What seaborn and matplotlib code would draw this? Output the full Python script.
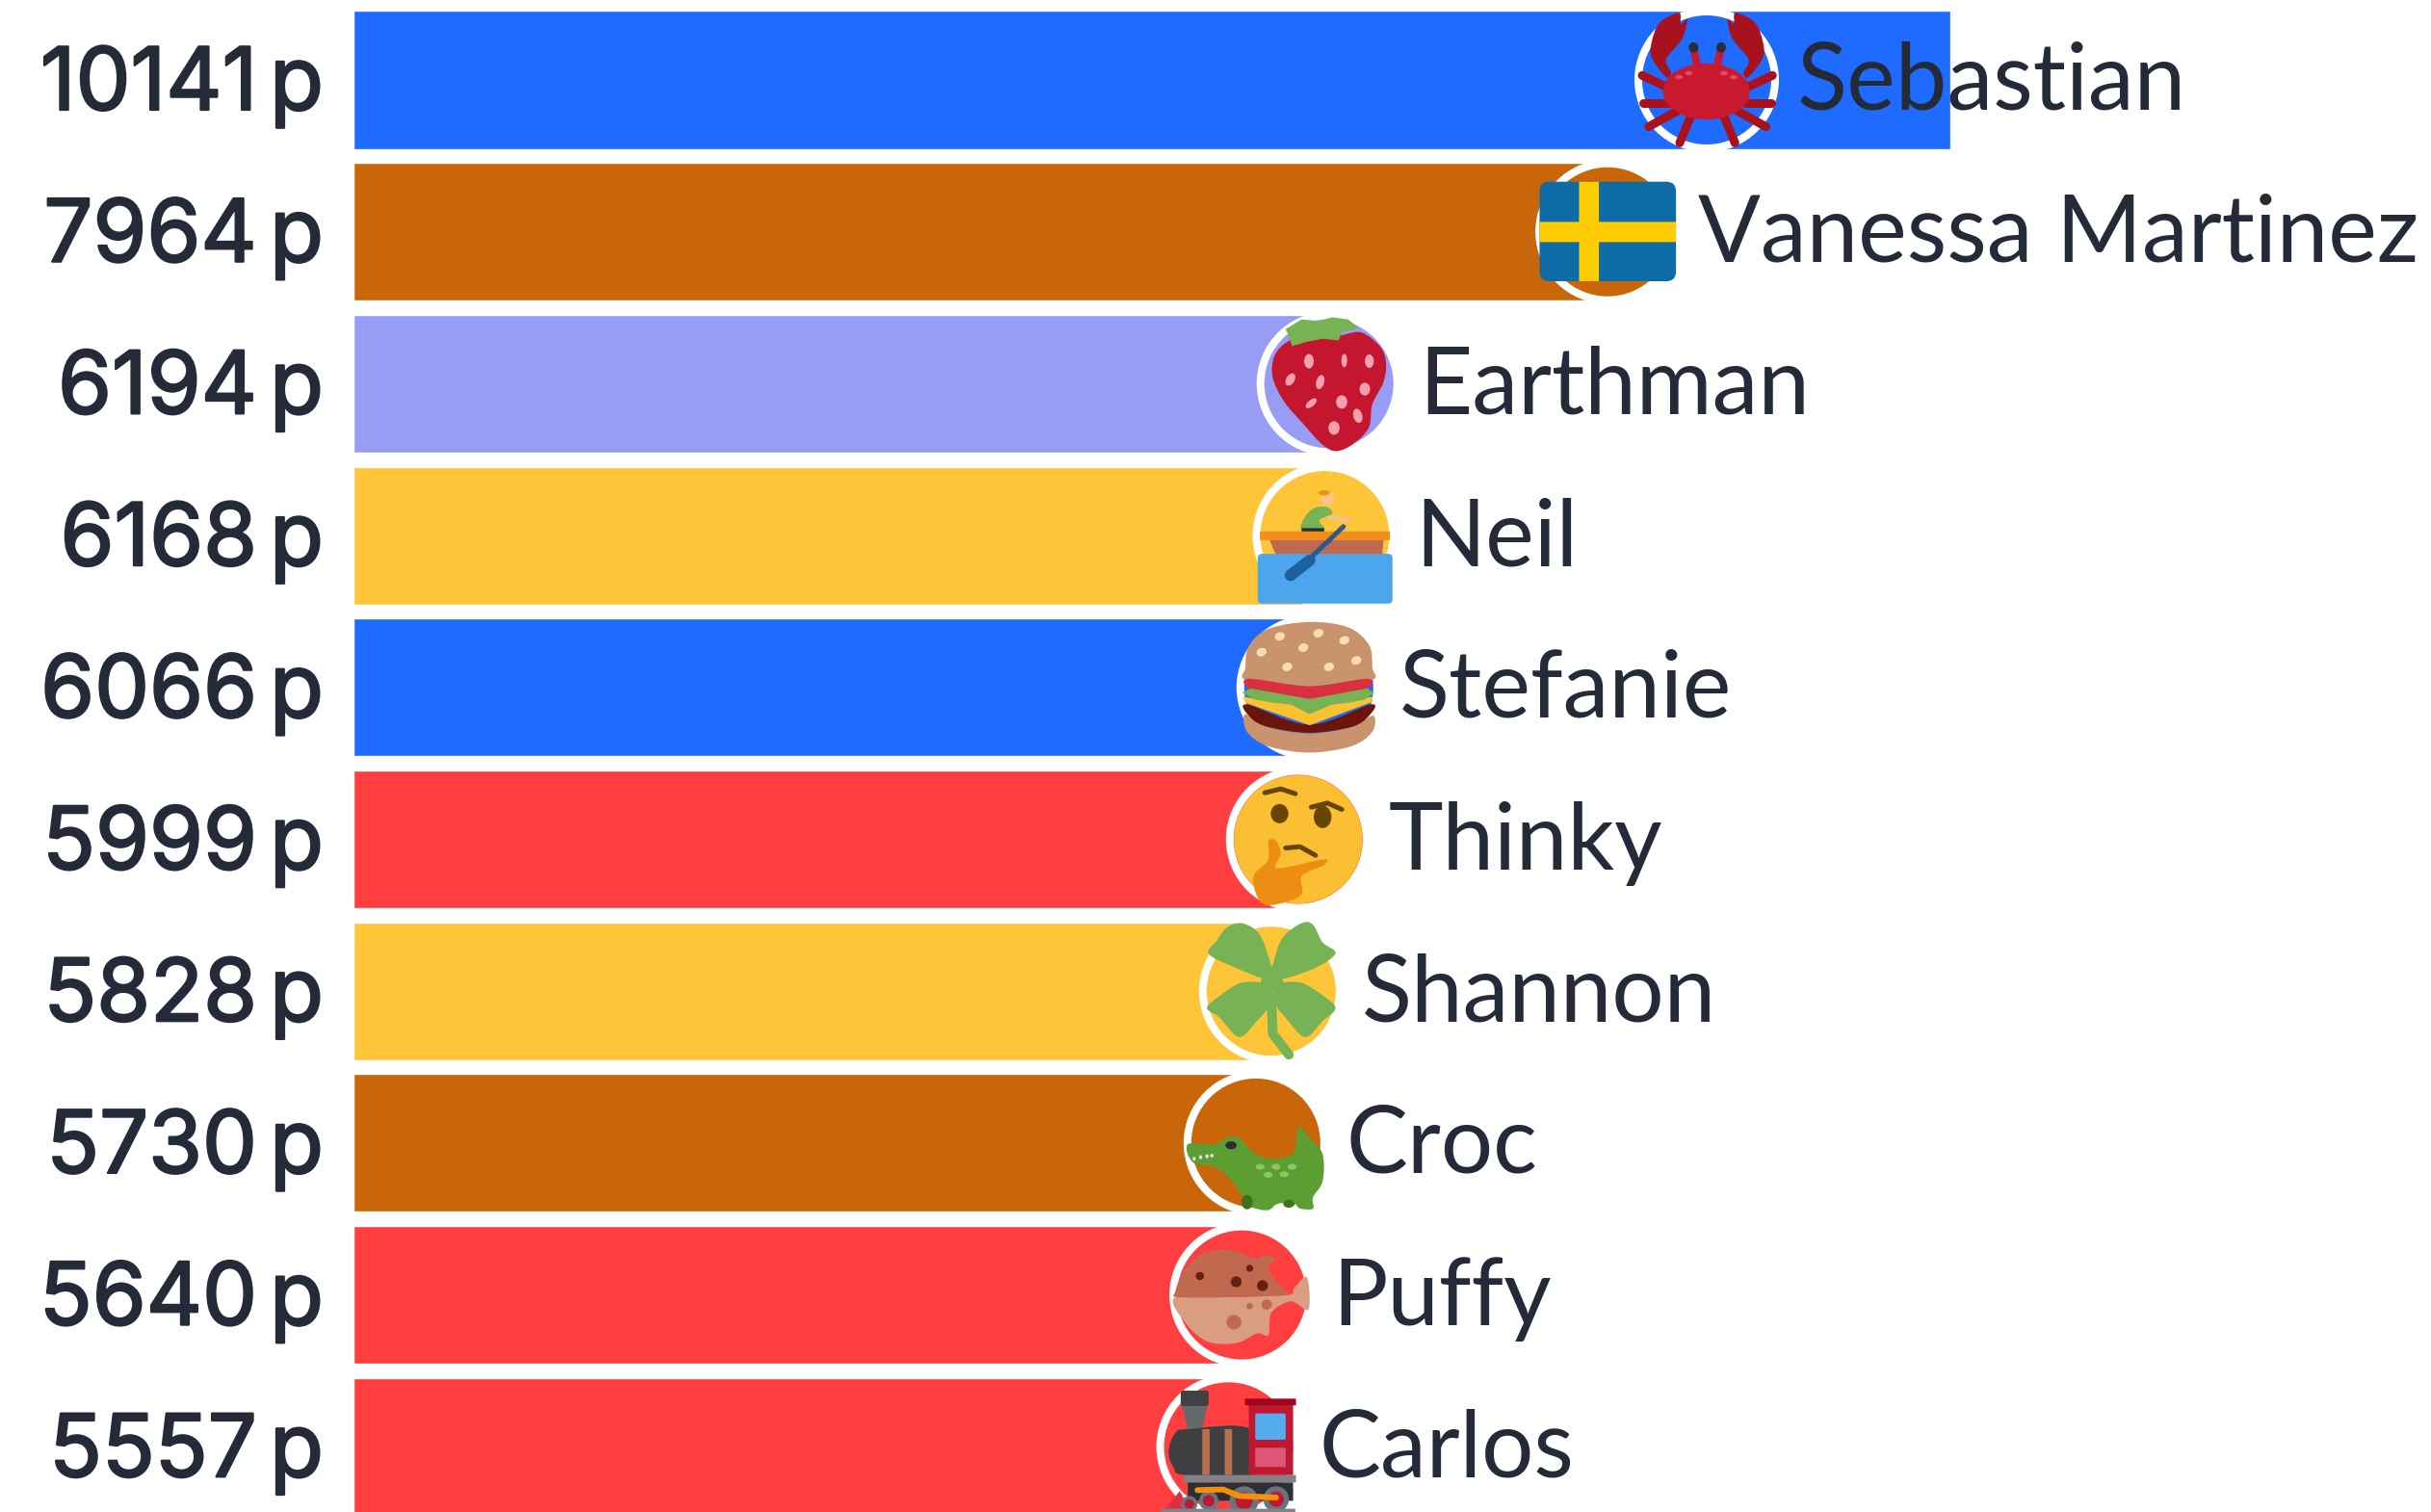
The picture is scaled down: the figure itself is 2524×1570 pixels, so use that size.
import numpy as np
import matplotlib
matplotlib.use("Agg")
import matplotlib.pyplot as plt
import matplotlib.patheffects as pe
import seaborn as sns
from matplotlib.patches import Circle, Ellipse, FancyBboxPatch, PathPatch, Polygon
from matplotlib.path import Path
from matplotlib.transforms import Affine2D

names = ["Sebastian", "Vanessa Martinez", "Earthman", "Neil", "Stefanie",
         "Thinky", "Shannon", "Croc", "Puffy", "Carlos"]
points = [10141, 7964, 6194, 6168, 6066, 5999, 5828, 5730, 5640, 5557]
# the top avatar lags behind the end of its bar in the picture
avatar_at = [8593, 7964, 6194, 6168, 6066, 5999, 5828, 5730, 5640, 5557]
bar_colors = ["#1f6bff", "#c9660a", "#979df5", "#ffc538", "#1f6bff",
              "#ff3f3f", "#ffc538", "#c9660a", "#ff3f3f", "#ff3f3f"]

W, H = 2524, 1570
PX_PER_POINT = 0.1635
BAR_LEFT = 367
ROW_0 = 83
ROW_STEP = 157.7
INK = "#252a38"

sns.set_theme(style="white")
plt.rcParams["font.family"] = ["Inter", "DejaVu Sans"]

fig = plt.figure(figsize=(W / 100, H / 100), dpi=100, facecolor="white")
ax = fig.add_axes([0, 0, 1, 1])
sns.barplot(x=points, y=names, hue=names, palette=bar_colors, saturation=1,
            width=0.907, legend=False, orient="h", ax=ax)
ax.set_xlim(-BAR_LEFT / PX_PER_POINT, (W - BAR_LEFT) / PX_PER_POINT)
ax.set_ylim((H - ROW_0) / ROW_STEP, -ROW_0 / ROW_STEP)
ax.axis("off")


# drawing helpers, icon coordinates are 3x pixels with y going down
def smooth_path(pts):
    p = np.array(pts, dtype=float)
    n = len(p)
    verts = [p[0]]
    codes = [Path.MOVETO]
    for i in range(n):
        c1 = p[i] + (p[(i + 1) % n] - p[i - 1]) / 6
        c2 = p[(i + 1) % n] - (p[(i + 2) % n] - p[i]) / 6
        verts += [c1, c2, p[(i + 1) % n]]
        codes += [Path.CURVE4] * 3
    return Path(verts, codes)


def blob(t, pts, color):
    ax.add_patch(PathPatch(smooth_path(pts), fc=color, ec="none", transform=t, zorder=6))


def poly(t, pts, color):
    ax.add_patch(Polygon(pts, closed=True, fc=color, ec="none", transform=t, zorder=6))


def dot(t, x, y, w, h, color, angle=0):
    ax.add_patch(Ellipse((x, y), w, h, angle=angle, fc=color, ec="none", transform=t, zorder=6))


def box(t, x0, y0, x1, y1, color, r=0):
    ax.add_patch(FancyBboxPatch((x0, y0), x1 - x0, y1 - y0,
                                boxstyle=f"round,pad=0,rounding_size={r}",
                                fc=color, ec="none", transform=t, zorder=6))


def stroke(t, pts, color, lw):
    ax.plot(*zip(*pts), color=color, lw=lw * 0.72, transform=t, zorder=6,
            solid_capstyle="round", solid_joinstyle="round")


def crab(t):
    red, dark = "#c8192e", "#a8121f"
    for flip in (False, True):
        mx = (lambda x: 556 - x) if flip else (lambda x: x)
        claw = [(190, 40), (130, 70), (105, 130), (105, 180), (150, 240), (165, 225),
                (150, 185), (200, 120), (215, 60), (195, 75)]
        blob(t, [(mx(x), y) for x, y in claw], dark)
        for a, b in [((150, 270), (75, 235)), ((160, 320), (78, 320)),
                     ((185, 345), (95, 395)), ((225, 365), (192, 445))]:
            stroke(t, [(mx(a[0]), a[1]), (mx(b[0]), b[1])], dark, 9)
        stroke(t, [(mx(245), 195), (mx(235), 150)], red, 8)
        dot(t, mx(235), 148, 30, 32, "#292f33")
    dot(t, 275, 285, 270, 175, red)
    for x, y in [(220, 228), (190, 240), (330, 228), (360, 240)]:
        dot(t, x, y, 24, 14, "#dd4a5a")


def flag(t):
    box(t, 55, 87, 480, 397, "#0d6ba6", 30)
    box(t, 178, 87, 240, 397, "#fecc00")
    box(t, 55, 212, 480, 275, "#fecc00")


def strawberry(t):
    blob(t, [(130, 150), (170, 105), (240, 85), (330, 85), (400, 75), (460, 120), (478, 170),
             (470, 230), (435, 300), (425, 370), (380, 420), (325, 445), (280, 425),
             (220, 360), (160, 290), (125, 215)], "#c4162e")
    poly(t, [(165, 65), (215, 35), (270, 40), (310, 28), (360, 35), (395, 62), (340, 75),
             (330, 100), (280, 95), (230, 105), (185, 118), (175, 85)], "#77b255")
    for x, y, w, h, a in [(238, 165, 30, 45, 0), (348, 163, 18, 42, 0), (426, 165, 28, 42, 0),
                          (180, 222, 26, 42, 30), (273, 230, 25, 45, 15), (412, 252, 33, 40, 0),
                          (245, 296, 20, 42, 50), (340, 292, 35, 42, 0), (390, 335, 28, 45, -15),
                          (316, 373, 35, 42, 0)]:
        dot(t, x, y, w, h, "#f4a0ae", a)


def rower(t):
    stroke(t, [(300, 650), (360, 660)], "#f7c28a", 5)
    dot(t, 295, 592, 40, 48, "#f9c58a")
    dot(t, 285, 575, 36, 16, "#f4900c")
    blob(t, [(215, 690), (225, 650), (255, 622), (295, 620), (310, 640), (270, 660), (285, 690)], "#77b255")
    box(t, 215, 685, 285, 696, "#292f33")
    box(t, 85, 695, 490, 722, "#f18f1a")
    poly(t, [(115, 722), (470, 722), (465, 780), (140, 780)], "#c1694f")
    box(t, 78, 765, 498, 920, "#4ca6ee", 14)
    stroke(t, [(345, 680), (240, 780)], "#2b5a8c", 5)
    stroke(t, [(180, 832), (240, 785)], "#1e5fa0", 12)


def burger(t):
    bun = "#c8936d"
    blob(t, [(100, 190), (110, 125), (170, 70), (300, 48), (420, 65), (485, 120), (495, 190),
             (490, 230), (300, 250), (105, 230)], bun)
    blob(t, [(100, 335), (170, 375), (300, 395), (430, 375), (497, 340), (495, 390), (430, 435),
             (300, 455), (170, 435), (105, 390)], bun)
    blob(t, [(105, 305), (300, 368), (490, 305), (485, 340), (430, 375), (300, 393), (170, 375),
             (115, 345)], "#6b1408")
    blob(t, [(110, 225), (300, 248), (480, 225), (480, 255), (400, 280), (300, 288), (200, 280),
             (115, 258)], "#d9303f")
    poly(t, [(92, 280), (200, 300), (300, 305), (400, 300), (497, 280), (495, 297), (300, 370),
             (100, 300)], "#f9c22e")
    poly(t, [(90, 268), (115, 255), (300, 288), (480, 255), (500, 270), (470, 290), (420, 300),
             (370, 305), (300, 335), (240, 305), (190, 300), (130, 290)], "#77b255")
    for x, y in [(207, 93), (327, 83), (408, 105), (150, 142), (280, 128), (445, 168), (230, 188), (360, 188)]:
        dot(t, x, y, 32, 26, "#f9dcb0", -20)


def thinking(t):
    dot(t, 354, 245, 400, 400, "#fbbf33")
    stroke(t, [(250, 100), (300, 88), (345, 103)], "#664500", 5)
    stroke(t, [(395, 145), (445, 132), (490, 152)], "#664500", 5)
    dot(t, 296, 165, 55, 60, "#664500")
    dot(t, 430, 175, 55, 70, "#664500")
    stroke(t, [(315, 272), (360, 268), (408, 295)], "#664500", 5)
    blob(t, [(262, 250), (285, 250), (300, 290), (290, 335), (430, 308), (435, 325), (365, 360),
             (362, 420), (270, 450), (230, 430), (215, 360), (260, 310)], "#ee8d14")


def clover(t):
    green = "#77b255"
    blob(t, [(270, 680), (150, 640), (75, 600), (100, 560), (130, 520), (175, 505), (225, 530), (255, 590)], green)
    blob(t, [(275, 680), (395, 650), (470, 600), (430, 565), (400, 510), (365, 505), (310, 545), (285, 600)], green)
    blob(t, [(265, 700), (180, 690), (105, 735), (70, 770), (110, 800), (170, 860), (225, 810), (265, 760)], green)
    blob(t, [(280, 700), (360, 690), (430, 730), (470, 770), (430, 810), (375, 860), (315, 800), (285, 760)], green)
    dot(t, 272, 690, 70, 60, green)
    stroke(t, [(270, 740), (275, 850), (325, 915)], green, 10)


def croc(t):
    green = "#5c9e31"
    blob(t, [(70, 235), (150, 235), (190, 215), (230, 215), (280, 265), (340, 280), (400, 260),
             (415, 180), (450, 215), (490, 265), (490, 350), (460, 400), (460, 435), (420, 435),
             (400, 420), (350, 420), (320, 440), (270, 430), (240, 395), (200, 340), (150, 305),
             (85, 290)], green)
    dot(t, 255, 415, 35, 45, "#3e721d")
    dot(t, 385, 420, 35, 25, "#3e721d")
    dot(t, 205, 238, 35, 25, "#292f33")
    for x, y in [(90, 280), (110, 275), (130, 272), (145, 270)]:
        dot(t, x, y, 10, 12, "#e1e8ed")
    for x, y in [(295, 305), (345, 305), (395, 305), (320, 330), (370, 328)]:
        dot(t, x, y, 28, 18, "#8cc665")


def puffer(t):
    blob(t, [(30, 712), (200, 712), (380, 705), (400, 685), (440, 650), (445, 750), (390, 725),
             (330, 760), (320, 830), (285, 825), (220, 855), (130, 850), (60, 790)], "#d99e82")
    blob(t, [(30, 695), (60, 625), (120, 575), (200, 565), (280, 590), (310, 580), (340, 595),
             (320, 625), (370, 690), (380, 705), (200, 712), (40, 712)], "#c1694f")
    for x, y, r in [(107, 646, 13), (220, 664, 17), (262, 622, 11), (302, 676, 17)]:
        dot(t, x, y, 2 * r, 2 * r, "#662113")
    for x, y, r in [(213, 790, 23), (315, 735, 16), (262, 740, 10)]:
        dot(t, x, y, 2 * r, 2 * r, "#c1694f")


def train(t):
    box(t, 108, 72, 195, 120, "#414141", 8)
    poly(t, [(112, 120), (190, 120), (175, 195), (130, 195)], "#66696c")
    blob(t, [(70, 262), (90, 205), (130, 192), (325, 192), (325, 335), (120, 335), (85, 310)], "#3f3f42")
    box(t, 175, 192, 198, 335, "#b5704f")
    box(t, 245, 192, 268, 335, "#b5704f")
    box(t, 320, 115, 458, 335, "#be1931")
    box(t, 308, 97, 467, 118, "#a0041e")
    box(t, 340, 143, 435, 225, "#55acee", 5)
    box(t, 340, 250, 435, 310, "#dd5577")
    box(t, 130, 358, 458, 415, "#292f33")
    poly(t, [(60, 440), (105, 385), (135, 440)], "#dd2e44")
    for x, y, r in [(135, 425, 25), (195, 415, 30), (305, 415, 45), (405, 410, 40)]:
        dot(t, x, y, 2 * r, 2 * r, "#66757f")
        dot(t, x, y, 1.2 * r, 1.2 * r, "#be1931")
    box(t, 117, 335, 467, 358, "#808285")
    stroke(t, [(160, 382), (240, 380), (290, 400), (405, 405)], "#f4900c", 6)
    box(t, 45, 440, 465, 452, "#808285")


# each icon with the spot of the disc centre in its own coordinates
icons = [(crab, 276, 249), (flag, 267, 243), (strawberry, 300, 235), (rower, 287, 708),
         (burger, 297, 252), (thinking, 354, 245), (clover, 270, 717), (croc, 282, 231),
         (puffer, 237, 705), (train, 257, 247)]
medium = [pe.withStroke(linewidth=1.6, foreground=INK)]  # 400 looks thin, 500 too heavy

for i, name in enumerate(names):
    # number and p go apart because the gap between them is narrow in the picture
    ax.annotate("p", xy=(0, i), xytext=(-31, -31), textcoords="offset pixels",
                ha="right", va="baseline", fontsize=66, fontweight=400, color=INK, zorder=5,
                path_effects=medium)
    ax.annotate(str(points[i]), xy=(0, i), xytext=(-100, -31), textcoords="offset pixels",
                ha="right", va="baseline", fontsize=65, fontweight=400, color=INK, zorder=5,
                path_effects=medium)
    ax.annotate(name, xy=(avatar_at[i], i), xytext=(94, -31), textcoords="offset pixels",
                ha="left", va="baseline", fontsize=69, fontfamily="Lato", fontweight=400,
                color=INK, zorder=5)
    px, py = ax.transData.transform((avatar_at[i], i))
    disc = Affine2D().translate(px, py)
    ax.add_patch(Circle((0, 0), 75, fc="white", ec="none", transform=disc, zorder=3))
    ax.add_patch(Circle((0, 0), 67, fc=bar_colors[i], ec="none", transform=disc, zorder=4))
    draw, ox, oy = icons[i]
    draw(Affine2D().translate(-ox, -oy).scale(1 / 3, -1 / 3).translate(px, py))

fig.savefig("out.png", dpi=100, facecolor="white")
